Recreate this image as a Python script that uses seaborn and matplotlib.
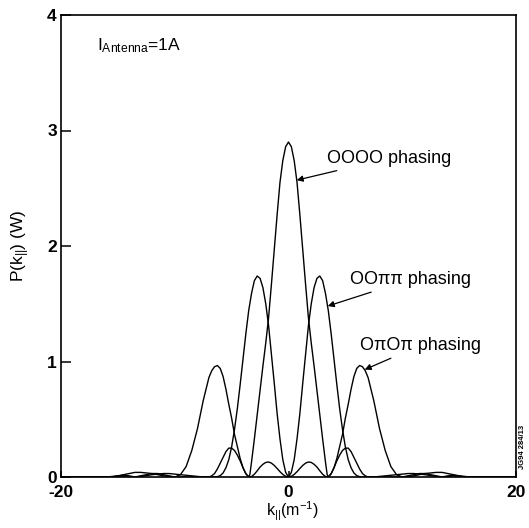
import numpy as np
import pandas as pd
import matplotlib
matplotlib.use("Agg")
import matplotlib.pyplot as plt
import seaborn as sns

# Parallel wavenumber grid (m^-1), positive half; spectra are symmetric in k
K_HALF = [0, 0.25, 0.5, 0.75, 1.0, 1.25, 1.5, 1.75, 2.0, 2.25, 2.5, 2.75, 3.0, 3.25,
          3.4, 3.5, 3.75, 4.0, 4.25, 4.5, 4.75, 5.0, 5.25, 5.5, 5.75, 6.0, 6.25, 6.5,
          6.75, 7.0, 7.5, 8.0, 8.5, 9.0, 9.5, 10.0, 10.5, 11.0, 11.5, 12.0, 12.5,
          13.0, 13.5, 14.0, 14.5, 15.0, 15.5, 16.0, 17.0, 20.0]

# Coupled power spectrum P(k) in W for each strap phasing
P_0000 = [2.90, 2.86, 2.74, 2.55, 2.27, 1.97, 1.67, 1.38, 1.16, 0.96, 0.75, 0.54, 0.33, 0.13,
          0.02, 0.0, 0.03, 0.08, 0.14, 0.19, 0.23, 0.25, 0.25, 0.22, 0.17, 0.12, 0.07, 0.03,
          0.01, 0.0, 0.0, 0.0, 0.0, 0.0, 0.0, 0.0, 0.005, 0.01, 0.02, 0.03, 0.035,
          0.04, 0.04, 0.03, 0.02, 0.01, 0.005, 0.0, 0.0, 0.0]

P_00PP = [0.0, 0.04, 0.15, 0.33, 0.55, 0.81, 1.06, 1.31, 1.50, 1.64, 1.72, 1.74, 1.70, 1.59,
          1.50, 1.44, 1.24, 1.02, 0.80, 0.59, 0.41, 0.26, 0.15, 0.08, 0.035, 0.012, 0.003, 0.0,
          0.0, 0.0, 0.0, 0.005, 0.01, 0.015, 0.02, 0.025, 0.03, 0.03, 0.025, 0.02, 0.012,
          0.005, 0.0, 0.0, 0.0, 0.0, 0.0, 0.0, 0.0, 0.0]

P_0P0P = [0.0, 0.006, 0.022, 0.046, 0.074, 0.10, 0.12, 0.13, 0.126, 0.11, 0.086, 0.054, 0.024, 0.004,
          0.0, 0.002, 0.027, 0.08, 0.16, 0.265, 0.37, 0.51, 0.63, 0.76, 0.87, 0.94, 0.965, 0.955,
          0.92, 0.86, 0.66, 0.42, 0.23, 0.09, 0.02, 0.0, 0.01, 0.02, 0.03, 0.03, 0.02,
          0.01, 0.0, 0.01, 0.015, 0.01, 0.0, 0.0, 0.0, 0.0]

PHASINGS = ["OOOO", "OO\u03c0\u03c0", "O\u03c0O\u03c0"]
X_TICKS = [-20, 0, 20]
Y_TICKS = [0, 1, 2, 3, 4]


def full_spectrum(half):
    """Mirror a positive-k half spectrum onto negative k."""
    half = np.asarray(half, dtype=float)
    return np.concatenate([half[:0:-1], half])


k_full = np.concatenate([-np.asarray(K_HALF[:0:-1]), np.asarray(K_HALF)])
frames = []
for name, half in zip(PHASINGS, [P_0000, P_00PP, P_0P0P]):
    frames.append(pd.DataFrame({"k": k_full, "P": full_spectrum(half), "phasing": name}))
df = pd.concat(frames, ignore_index=True)

sns.set_theme(style="ticks")
plt.rcParams["font.family"] = ["Liberation Sans", "DejaVu Sans"]
plt.rcParams["mathtext.default"] = "regular"
for key in ["text.color", "axes.labelcolor", "xtick.color", "ytick.color", "axes.edgecolor"]:
    plt.rcParams[key] = "black"

fig = plt.figure(figsize=(5.29, 5.28), dpi=100)
ax = fig.add_axes([61 / 529, 1 - 477 / 528, (516 - 61) / 529, (477 - 15) / 528])

sns.lineplot(data=df, x="k", y="P", units="phasing", estimator=None, sort=False,
             color="black", linewidth=1.0, ax=ax)

ax.set_xlim(-20, 20)
ax.set_ylim(0, 4)
ax.set_xticks(X_TICKS)
ax.set_xticklabels([str(t) for t in X_TICKS])
ax.set_yticks(Y_TICKS)
ax.set_yticklabels([str(t) for t in Y_TICKS])
ax.tick_params(axis="y", direction="in", length=7, width=1.1, labelsize=12.5, pad=3)
ax.tick_params(axis="x", direction="in", length=4, width=1.1, labelsize=12.5, pad=6)
for lbl in ax.get_xticklabels() + ax.get_yticklabels():
    lbl.set_fontweight("bold")
for sp in ax.spines.values():
    sp.set_visible(True)
    sp.set_linewidth(1.2)
    sp.set_color("black")

ax.set_xlabel(r"k$_{||}$(m$^{-1}$)", fontsize=11.5)
ax.xaxis.set_label_coords((292 - 61) / 455, -0.05)
ax.set_ylabel(r"P(k$_{||}$) (W)", fontsize=12.5, va="center")
ax.yaxis.set_label_coords(-0.088, 0.50)

ax.text(0.079, 0.933, r"I$_{Antenna}$=1A", transform=ax.transAxes,
        fontsize=12.5, ha="left", va="center")

arrow = dict(arrowstyle="-|>", color="black", lw=0.9, mutation_scale=9,
             shrinkA=2, shrinkB=0)
ax.annotate("OOOO phasing", xy=(0.72, 2.57), xytext=(3.38, 2.76),
            ha="left", va="center", fontsize=13, arrowprops=arrow)
ax.annotate("OO\u03c0\u03c0 phasing", xy=(3.45, 1.48), xytext=(5.41, 1.71),
            ha="left", va="center", fontsize=13, arrowprops=arrow)
ax.annotate("O\u03c0O\u03c0 phasing", xy=(6.7, 0.93), xytext=(6.29, 1.14),
            ha="left", va="center", fontsize=13, arrowprops=arrow)

fig.text(523 / 529, 1 - 447 / 528, "JG94 284/13", rotation=90, fontsize=5.5,
         fontweight="bold", ha="center", va="center")

fig.savefig("out.png", dpi=100, facecolor="white")
